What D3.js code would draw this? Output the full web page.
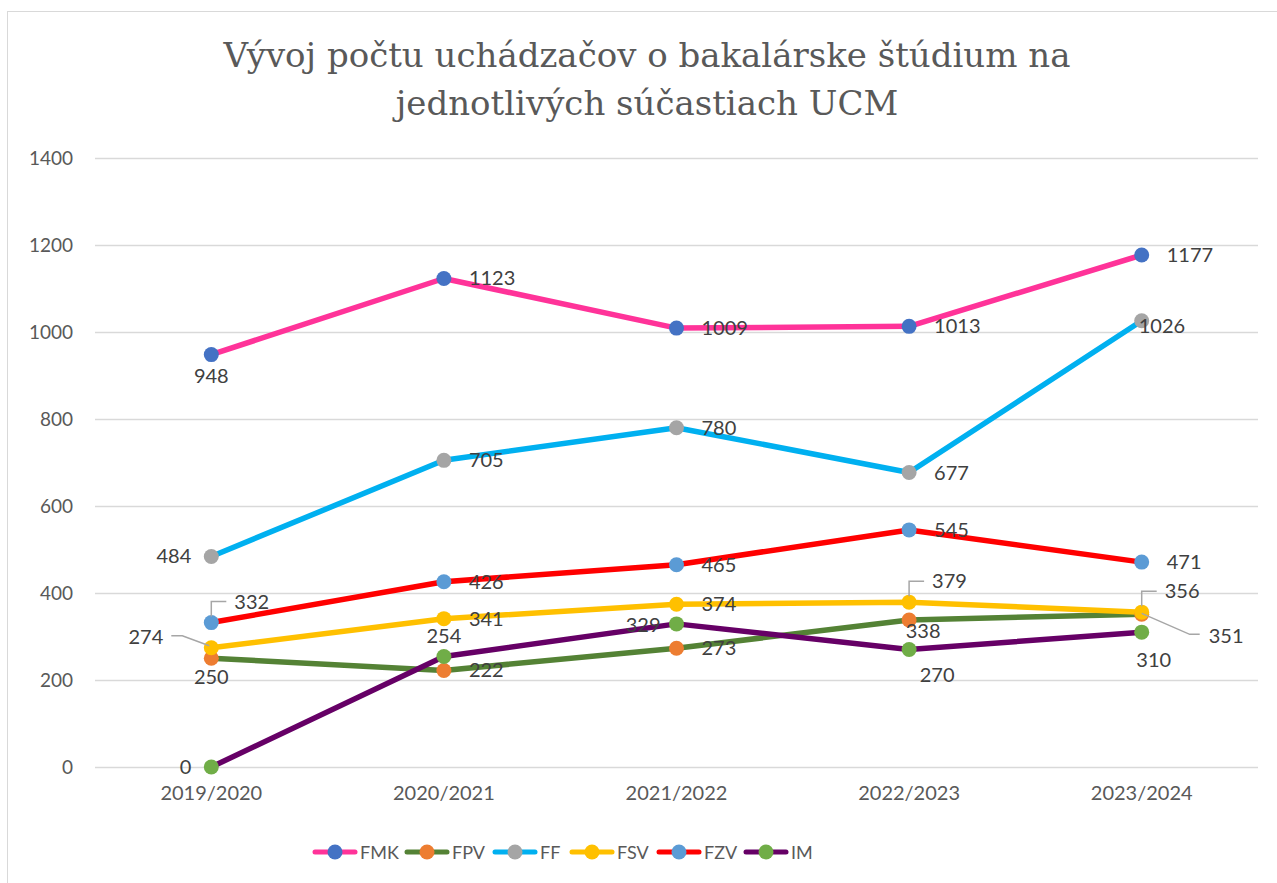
<!DOCTYPE html>
<html>
<head>
    <title>Vývoj počtu uchádzačov</title>
    <script src="https://cdnjs.cloudflare.com/ajax/libs/d3/7.8.5/d3.min.js"></script>
    <style>
        body { margin: 0; background: #fff; }
        text { font-family: Lato, "Liberation Sans", sans-serif; }
    </style>
</head>
<body>
    <div id="chart"></div>
    <script>
        const years = ['2019/2020', '2020/2021', '2021/2022', '2022/2023', '2023/2024'];
        const seriesNames = ['FMK', 'FPV', 'FF', 'FSV', 'FZV', 'IM'];
        const fmk = [948, 1123, 1009, 1013, 1177];
        const fpv = [250, 222, 273, 338, 351];
        const ff = [484, 705, 780, 677, 1026];
        const fsv = [274, 341, 374, 379, 356];
        const fzv = [332, 426, 465, 545, 471];
        const im = [0, 254, 329, 270, 310];
        const yTicks = [0, 200, 400, 600, 800, 1000, 1200, 1400];

        const lineColors = ['#FF3399', '#548235', '#00B0F0', '#FFC000', '#FF0000', '#660066'];
        const markerColors = ['#4472C4', '#ED7D31', '#A5A5A5', '#FFC000', '#5B9BD5', '#70AD47'];

        // label placement per point: [kind, dx, dy]
        const labelPos = {
            FMK: [['b', 0, -2], ['r'], ['r'], ['r'], ['r']],
            FPV: [['b', 0, -4], ['r'], ['r'], ['b', 14, -12], ['lead351']],
            FF: [['l'], ['r'], ['r'], ['r'], ['r', -28, 5]],
            FSV: [['lead274'], ['r'], ['r'], ['leadUp'], ['leadUp']],
            FZV: [['leadUp'], ['r'], ['r'], ['r'], ['r']],
            IM: [['l'], ['t'], ['l', 4, 1], ['b', 28, 2], ['b', 12, 5]]
        };

        const allData = [fmk, fpv, ff, fsv, fzv, im];

        const W = 1277, H = 883;
        const margin = {left: 95, right: 19};

        const svg = d3.select('#chart').append('svg')
            .attr('width', W).attr('height', H);

        // chart frame
        svg.append('rect')
            .attr('x', 7.5).attr('y', 11.5)
            .attr('width', W + 20).attr('height', H + 20)
            .attr('fill', 'none').attr('stroke', '#d9d9d9').attr('stroke-width', 1);

        const x = d3.scaleBand()
            .domain(years)
            .range([margin.left, W - margin.right]);

        const y = d3.scaleLinear()
            .domain([0, 1400])
            .range([767, 158]);

        // gridlines
        svg.append('g')
            .selectAll('line')
            .data(yTicks)
            .join('line')
            .attr('x1', margin.left).attr('x2', W - margin.right)
            .attr('y1', d => Math.round(y(d)) + 0.5).attr('y2', d => Math.round(y(d)) + 0.5)
            .attr('stroke', '#d9d9d9').attr('stroke-width', 1.3);

        // y axis labels
        const yAxis = svg.append('g')
            .attr('transform', 'translate(73,0)')
            .call(d3.axisLeft(y).tickValues(yTicks).tickFormat(d3.format('d')).tickSize(0).tickPadding(0));
        yAxis.select('.domain').remove();
        yAxis.selectAll('text')
            .attr('fill', '#595959').style('font-size', '19px')
            .style('font-family', 'Lato, sans-serif');

        // x axis labels
        const xAxis = svg.append('g')
            .attr('transform', 'translate(0,786)')
            .call(d3.axisBottom(x).tickSize(0).tickPadding(0));
        xAxis.select('.domain').remove();
        xAxis.selectAll('text')
            .attr('fill', '#595959').style('font-size', '20px')
            .style('font-family', 'Lato, sans-serif');

        // title
        const title = svg.append('text')
            .attr('x', 647).attr('y', 67)
            .attr('text-anchor', 'middle')
            .attr('fill', '#595959')
            .style('font-family', '"DejaVu Serif", serif')
            .style('font-size', '34px');
        title.append('tspan').attr('x', 647).text('Vývoj počtu uchádzačov o bakalárske štúdium na');
        title.append('tspan').attr('x', 647).attr('dy', 48).text('jednotlivých súčastiach UCM');

        const cx = i => x(years[i]) + x.bandwidth() / 2;
        const line = d3.line().x((d, i) => cx(i)).y(d => y(d));

        // lines
        allData.forEach((vals, s) => {
            svg.append('path')
                .datum(vals)
                .attr('d', line)
                .attr('fill', 'none')
                .attr('stroke', lineColors[s])
                .attr('stroke-width', 5.5)
                .attr('stroke-linejoin', 'round');
        });

        // markers
        allData.forEach((vals, s) => {
            svg.append('g')
                .selectAll('circle')
                .data(vals)
                .join('circle')
                .attr('cx', (d, i) => cx(i))
                .attr('cy', d => y(d))
                .attr('r', 7.5)
                .attr('fill', markerColors[s]);
        });

        // data labels
        const labels = svg.append('g');
        const leaders = svg.append('g');
        allData.forEach((vals, s) => {
            vals.forEach((v, i) => {
                const px = cx(i), py = y(v);
                const [kind, ex = 0, ey = 0] = labelPos[seriesNames[s]][i];
                let tx = px, ty = py, anchor = 'start';
                if (kind === 'r') { tx = px + 25; ty = py + 7; }
                else if (kind === 'l') { tx = px - 20; ty = py + 7; anchor = 'end'; }
                else if (kind === 'b') { ty = py + 30; anchor = 'middle'; }
                else if (kind === 't') { ty = py - 14; anchor = 'middle'; }
                else if (kind === 'leadUp') {
                    leaders.append('path')
                        .attr('d', `M${px},${py - 6}V${py - 21}H${px + 15}`)
                        .attr('fill', 'none').attr('stroke', '#a6a6a6').attr('stroke-width', 1.5);
                    tx = px + 23; ty = py - 14;
                } else if (kind === 'lead274') {
                    leaders.append('path')
                        .attr('d', `M${px - 2},${py - 2}L${px - 29},${py - 12}H${px - 40}`)
                        .attr('fill', 'none').attr('stroke', '#a6a6a6').attr('stroke-width', 1.5);
                    tx = px - 48; ty = py - 4; anchor = 'end';
                } else if (kind === 'lead351') {
                    leaders.append('path')
                        .attr('d', `M${px},${py - 1}L${px + 48},${py + 20}H${px + 58}`)
                        .attr('fill', 'none').attr('stroke', '#a6a6a6').attr('stroke-width', 1.5);
                    tx = px + 67; ty = py + 29;
                }
                labels.append('text')
                    .attr('x', tx + ex).attr('y', ty + ey)
                    .attr('text-anchor', anchor)
                    .attr('fill', '#404040')
                    .style('font-size', '20px')
                    .text(v);
            });
        });

        // legend
        const legendX = [315, 407, 495, 572, 659, 746];
        const legend = svg.append('g').attr('transform', 'translate(0,852)');
        seriesNames.forEach((name, s) => {
            const g = legend.append('g').attr('transform', `translate(${legendX[s]},0)`);
            g.append('line')
                .attr('x1', 0).attr('x2', 40).attr('y1', 0).attr('y2', 0)
                .attr('stroke', lineColors[s]).attr('stroke-width', 5)
                .attr('stroke-linecap', 'round');
            g.append('circle').attr('cx', 20).attr('cy', 0).attr('r', 7.5)
                .attr('fill', markerColors[s]);
            g.append('text').attr('x', 45).attr('y', 7)
                .attr('fill', '#595959').style('font-size', '18px')
                .text(name);
        });
    </script>
</body>
</html>
